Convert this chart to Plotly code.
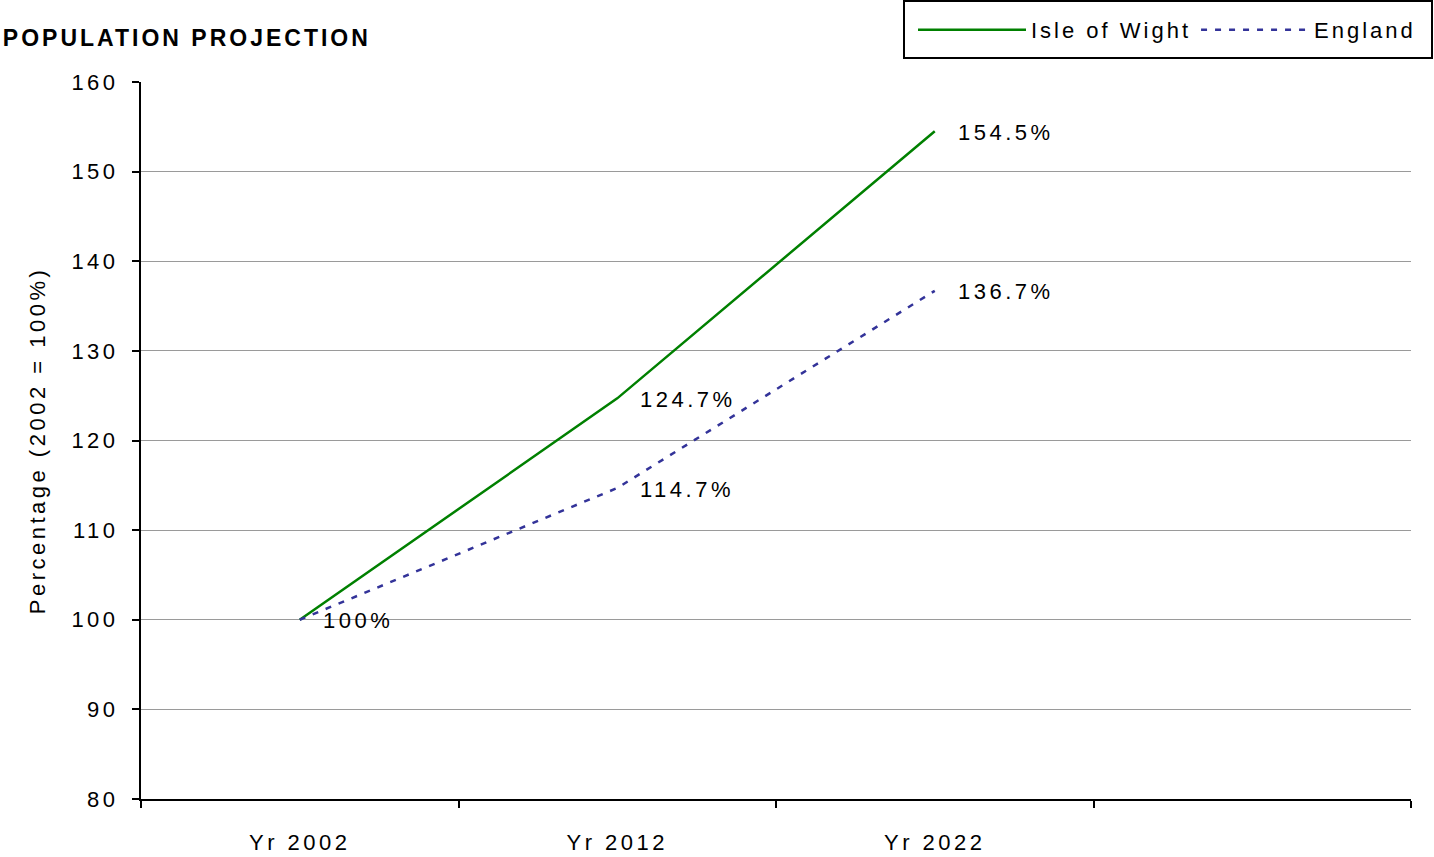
import plotly.graph_objects as go

years = ["Yr 2002", "Yr 2012", "Yr 2022"]
all_categories = ["Yr 2002", "Yr 2012", "Yr 2022", " "]
isle_of_wight = [100.0, 124.7, 154.5]
england = [100.0, 114.7, 136.7]
iow_labels = ["100%", "124.7%", "154.5%"]
eng_labels = ["", "114.7%", "136.7%"]
y_ticks = [80, 90, 100, 110, 120, 130, 140, 150, 160]

FONT = "Liberation Sans, Arial, sans-serif"
W, H = 1434, 857
L, R, T, B = 141, 23, 82, 58
PW, PH = W - L - R, H - T - B


def sp(text, px=3.5):
    return f'<span style="letter-spacing:{px}px">{text}</span>'


fig = go.Figure()
fig.add_trace(go.Scatter(x=years, y=isle_of_wight, mode="lines", name=sp("Isle of Wight", 3),
                         line=dict(color="#008000", width=2.5)))
fig.add_trace(go.Scatter(x=years, y=england, mode="lines", name=sp("England", 3),
                         line=dict(color="#333399", width=2.5, dash="6px,8px")))

for xs, vals, labs in [(years, isle_of_wight, iow_labels), (years, england, eng_labels)]:
    for x, v, t in zip(xs, vals, labs):
        if t:
            fig.add_annotation(x=x, y=v, text=sp(t), showarrow=False, xanchor="left",
                               yanchor="middle", xshift=21, yshift=-1,
                               font=dict(family=FONT, size=22, color="#000000"))

# legend frame (box around the legend)
fig.add_shape(type="rect", xref="paper", yref="paper",
              x0=(904 - L) / PW, x1=(1432 - L) / PW,
              y0=(H - B - 58) / PH, y1=(H - B - 1) / PH,
              line=dict(color="#000000", width=2), fillcolor="rgba(0,0,0,0)", layer="above")

fig.update_layout(
    width=W, height=H,
    margin=dict(l=L, r=R, t=T, b=B, autoexpand=False),
    paper_bgcolor="white", plot_bgcolor="white",
    font=dict(family=FONT, size=22, color="#000000"),
    title=dict(text="<b>" + sp("POPULATION PROJECTION", 3) + "</b>", x=0.002, xanchor="left",
               xref="container", yref="container", y=1 - 38 / H, yanchor="middle",
               font=dict(family=FONT, size=23, color="#000000")),
    showlegend=True,
    legend=dict(orientation="h", xref="container", yref="container",
                x=1421 / W, xanchor="right", y=1 - 9 / H, yanchor="top",
                borderwidth=0, bgcolor="rgba(0,0,0,0)",
                itemwidth=108, font=dict(family=FONT, size=22),
                traceorder="normal"),
)

fig.update_xaxes(
    type="category", categoryorder="array", categoryarray=all_categories,
    range=[-0.5, 3.5], tickson="boundaries", ticks="outside", ticklen=7,
    tickwidth=2, tickcolor="#000000", showline=True, linecolor="#000000",
    linewidth=2, showgrid=False, ticklabelstandoff=23, automargin=False,
    tickvals=all_categories, ticktext=[sp(c) if c.strip() else "" for c in all_categories],
    tickfont=dict(family=FONT, size=22), fixedrange=True,
)
fig.update_yaxes(
    range=[80, 160], tickvals=y_ticks, ticktext=[sp(str(v)) for v in y_ticks],
    ticks="outside", ticklen=7, tickwidth=2, automargin=False,
    tickcolor="#000000", showline=True, linecolor="#000000", linewidth=2,
    showgrid=True, gridcolor="#9a9a9a", gridwidth=1, zeroline=False,
    ticklabelstandoff=9, tickfont=dict(family=FONT, size=22), fixedrange=True,
    title=dict(text=sp("Percentage (2002 = 100%)"), font=dict(family=FONT, size=22), standoff=20),
)

fig.write_html("out.html", config={"displayModeBar": False},
               post_script="document.body.style.margin='0';")
